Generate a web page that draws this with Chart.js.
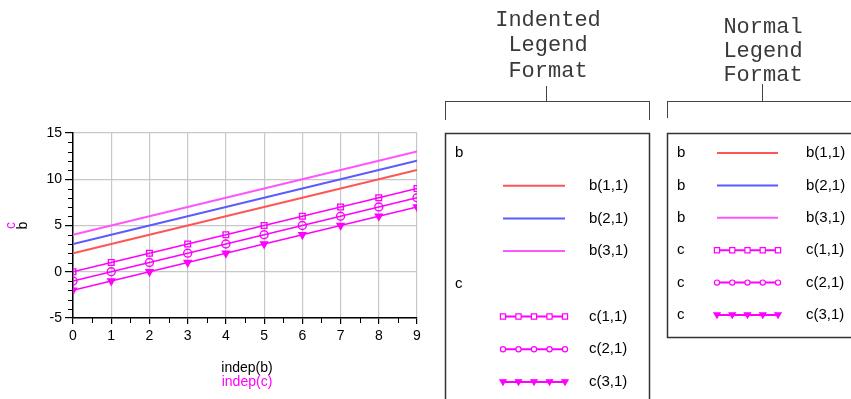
<!DOCTYPE html>
<html>
<head>
<meta charset="utf-8">
<script src="https://cdn.jsdelivr.net/npm/chart.js@4/dist/chart.umd.min.js"></script>
<style>
  html, body { margin: 0; padding: 0; background: #fff; }
  canvas { display: block; }
</style>
</head>
<body>
<canvas id="myChart" width="851" height="399"></canvas>
<script>
// values
const indep = [0, 1, 2, 3, 4, 5, 6, 7, 8, 9];
const b11 = [2, 3, 4, 5, 6, 7, 8, 9, 10, 11];
const b21 = [3, 4, 5, 6, 7, 8, 9, 10, 11, 12];
const b31 = [4, 5, 6, 7, 8, 9, 10, 11, 12, 13];
const c11 = [0, 1, 2, 3, 4, 5, 6, 7, 8, 9];
const c21 = [-1, 0, 1, 2, 3, 4, 5, 6, 7, 8];
const c31 = [-2, -1, 0, 1, 2, 3, 4, 5, 6, 7];
const seriesLabels = ['b(1,1)', 'b(2,1)', 'b(3,1)', 'c(1,1)', 'c(2,1)', 'c(3,1)'];
const seriesGroup = ['b', 'b', 'b', 'c', 'c', 'c'];
const yMin = -5, yMax = 15, yStep = 5;
const xMin = 0, xMax = 9;

const RED = '#ff5555', BLUE = '#5b5bff', PINK = '#ff55ff', MAG = '#ff00ff';
const SANS = '"Liberation Sans", Arial, sans-serif';
const MONO = '"Liberation Mono", "DejaVu Sans Mono", monospace';

function pts(ys) {
  return indep.map((x, i) => ({ x: x, y: ys[i] }));
}

function lineSet(i, ys, color) {
  return {
    label: seriesLabels[i], data: pts(ys),
    borderColor: color, backgroundColor: color,
    borderWidth: 2, pointRadius: 0, pointHoverRadius: 0
  };
}

function markSet(i, ys, style, filled) {
  return {
    label: seriesLabels[i], data: pts(ys),
    borderColor: MAG, backgroundColor: MAG,
    borderWidth: 1.5,
    pointStyle: style,
    pointRotation: style === 'triangle' ? 180 : 0,
    pointRadius: 4,
    pointBorderWidth: 1.4,
    pointBackgroundColor: filled ? MAG : 'rgba(255,255,255,0)',
    pointBorderColor: MAG
  };
}

// little marker drawer used for the legend boxes
function drawMark(ctx, style, filled, x, y, r) {
  ctx.save();
  ctx.strokeStyle = MAG; ctx.fillStyle = MAG; ctx.lineWidth = 1.2;
  ctx.beginPath();
  if (style === 'rect') {
    ctx.rect(x - r, y - r, 2 * r, 2 * r);
  } else if (style === 'circle') {
    ctx.arc(x, y, r, 0, Math.PI * 2);
  } else {
    ctx.moveTo(x - r - 0.5, y - r + 0.5);
    ctx.lineTo(x + r + 0.5, y - r + 0.5);
    ctx.lineTo(x, y + r + 0.5);
    ctx.closePath();
  }
  if (filled) ctx.fill(); else { ctx.fillStyle = '#fff'; ctx.fill(); }
  ctx.stroke();
  ctx.restore();
}

function legendSample(ctx, ds, x1, x2, y) {
  ctx.save();
  ctx.strokeStyle = ds.borderColor;
  ctx.lineWidth = 2;
  ctx.beginPath(); ctx.moveTo(x1, y); ctx.lineTo(x2, y); ctx.stroke();
  ctx.restore();
  if (ds.pointRadius > 0) {
    const filled = ds.pointBackgroundColor === MAG;
    for (let k = 0; k < 5; k++) {
      drawMark(ctx, ds.pointStyle, filled, x1 + (x2 - x1) * k / 4, y, 2.6);
    }
  }
}

function bracket(ctx, x1, x2, yTop, yLine, xMid, yEnd, rightOpen) {
  ctx.save();
  ctx.strokeStyle = '#444'; ctx.lineWidth = 1;
  ctx.beginPath();
  ctx.moveTo(xMid + 0.5, yTop); ctx.lineTo(xMid + 0.5, yLine);
  ctx.moveTo(x1, yLine + 0.5); ctx.lineTo(x2, yLine + 0.5);
  ctx.moveTo(x1 + 0.5, yLine); ctx.lineTo(x1 + 0.5, yEnd);
  if (!rightOpen) { ctx.moveTo(x2 - 0.5, yLine); ctx.lineTo(x2 - 0.5, yEnd); }
  ctx.stroke();
  ctx.restore();
}

const extras = {
  id: 'extras',
  afterDraw(chart) {
    const ctx = chart.ctx;
    const area = chart.chartArea;
    const xs = chart.scales.x, ys = chart.scales.y;
    const dsets = chart.data.datasets;

    // minor ticks
    ctx.save();
    ctx.strokeStyle = '#000'; ctx.lineWidth = 1;
    ctx.beginPath();
    for (let v = yMin; v <= yMax; v++) {
      if (v % yStep === 0) continue;
      const py = Math.round(ys.getPixelForValue(v)) + 0.5;
      ctx.moveTo(area.left - 5, py); ctx.lineTo(area.left, py);
    }
    for (let v = xMin + 0.5; v < xMax; v += 1) {
      const px = Math.round(xs.getPixelForValue(v)) + 0.5;
      ctx.moveTo(px, area.bottom); ctx.lineTo(px, area.bottom + 5);
    }
    ctx.stroke();
    ctx.restore();

    // axis titles in two colours
    ctx.save();
    ctx.font = '14px ' + SANS;
    ctx.textAlign = 'center'; ctx.textBaseline = 'middle';
    const cx = (area.left + area.right) / 2 + 2;
    ctx.fillStyle = '#000'; ctx.fillText('indep(b)', cx, 368);
    ctx.fillStyle = MAG; ctx.fillText('indep(c)', cx, 382);
    const cy = (area.top + area.bottom) / 2;
    ctx.translate(0, cy);
    ctx.rotate(-Math.PI / 2);
    ctx.fillStyle = MAG; ctx.fillText('c', 0, 11);
    ctx.fillStyle = '#000'; ctx.fillText('b', 0, 23);
    ctx.restore();

    // legend headings
    ctx.save();
    ctx.font = '22px ' + MONO;
    ctx.fillStyle = '#3a3a3a';
    ctx.textAlign = 'center'; ctx.textBaseline = 'middle';
    ['Indented', 'Legend', 'Format'].forEach((t, i) => ctx.fillText(t, 548, 20 + i * 25.5));
    ['Normal', 'Legend', 'Format'].forEach((t, i) => ctx.fillText(t, 763, 27 + i * 24));
    ctx.restore();
    bracket(ctx, 445, 650, 86, 101, 546, 120, false);
    bracket(ctx, 667, 851, 84, 101, 762, 118, true);

    // legend boxes
    ctx.save();
    ctx.strokeStyle = '#333'; ctx.lineWidth = 1.5;
    ctx.strokeRect(445.5, 133.5, 204, 300);
    ctx.strokeRect(667.5, 133.5, 220, 204);
    ctx.restore();

    ctx.save();
    ctx.font = '15px ' + SANS;
    ctx.fillStyle = '#000';
    ctx.textBaseline = 'middle'; ctx.textAlign = 'left';

    // indented layout
    let row = 0;
    let lastGroup = null;
    const rowY = r => 153 + r * 32.7;
    dsets.forEach((ds, i) => {
      if (seriesGroup[i] !== lastGroup) {
        ctx.fillStyle = '#000';
        ctx.fillText(seriesGroup[i], 455, rowY(row));
        lastGroup = seriesGroup[i];
        row++;
      }
      legendSample(ctx, ds, 503, 565, rowY(row));
      ctx.fillStyle = '#000';
      ctx.fillText(ds.label, 589, rowY(row));
      row++;
    });

    // normal layout
    dsets.forEach((ds, i) => {
      const y = 153 + i * 32.4;
      ctx.fillStyle = '#000';
      ctx.fillText(seriesGroup[i], 677, y);
      legendSample(ctx, ds, 717, 778, y);
      ctx.fillStyle = '#000';
      ctx.fillText(ds.label, 806, y);
    });
    ctx.restore();
  }
};

const ctx = document.getElementById('myChart');

new Chart(ctx, {
  type: 'line',
  data: {
    datasets: [
      lineSet(0, b11, RED),
      lineSet(1, b21, BLUE),
      lineSet(2, b31, PINK),
      markSet(3, c11, 'rect', false),
      markSet(4, c21, 'circle', false),
      markSet(5, c31, 'triangle', true)
    ]
  },
  options: {
    responsive: false,
    animation: false,
    events: [],
    layout: { padding: { left: 0, top: 133, right: 434, bottom: 0 } },
    plugins: { legend: { display: false }, tooltip: { enabled: false } },
    scales: {
      x: {
        type: 'linear', min: xMin, max: xMax,
        afterFit: s => { s.height = 81; },
        ticks: { stepSize: 1, color: '#000', padding: 4, font: { size: 14, family: SANS } },
        grid: { color: '#c8c8c8', lineWidth: 1.2, tickColor: '#000', tickLength: 6 },
        border: { color: '#000', width: 1.5 }
      },
      y: {
        min: yMin, max: yMax,
        afterFit: s => { s.width = 73; },
        ticks: { stepSize: yStep, color: '#000', padding: 3, font: { size: 14, family: SANS } },
        grid: { color: '#c8c8c8', lineWidth: 1.2, tickColor: '#000', tickLength: 8 },
        border: { color: '#000', width: 1.5 }
      }
    }
  },
  plugins: [extras]
});
</script>
</body>
</html>
